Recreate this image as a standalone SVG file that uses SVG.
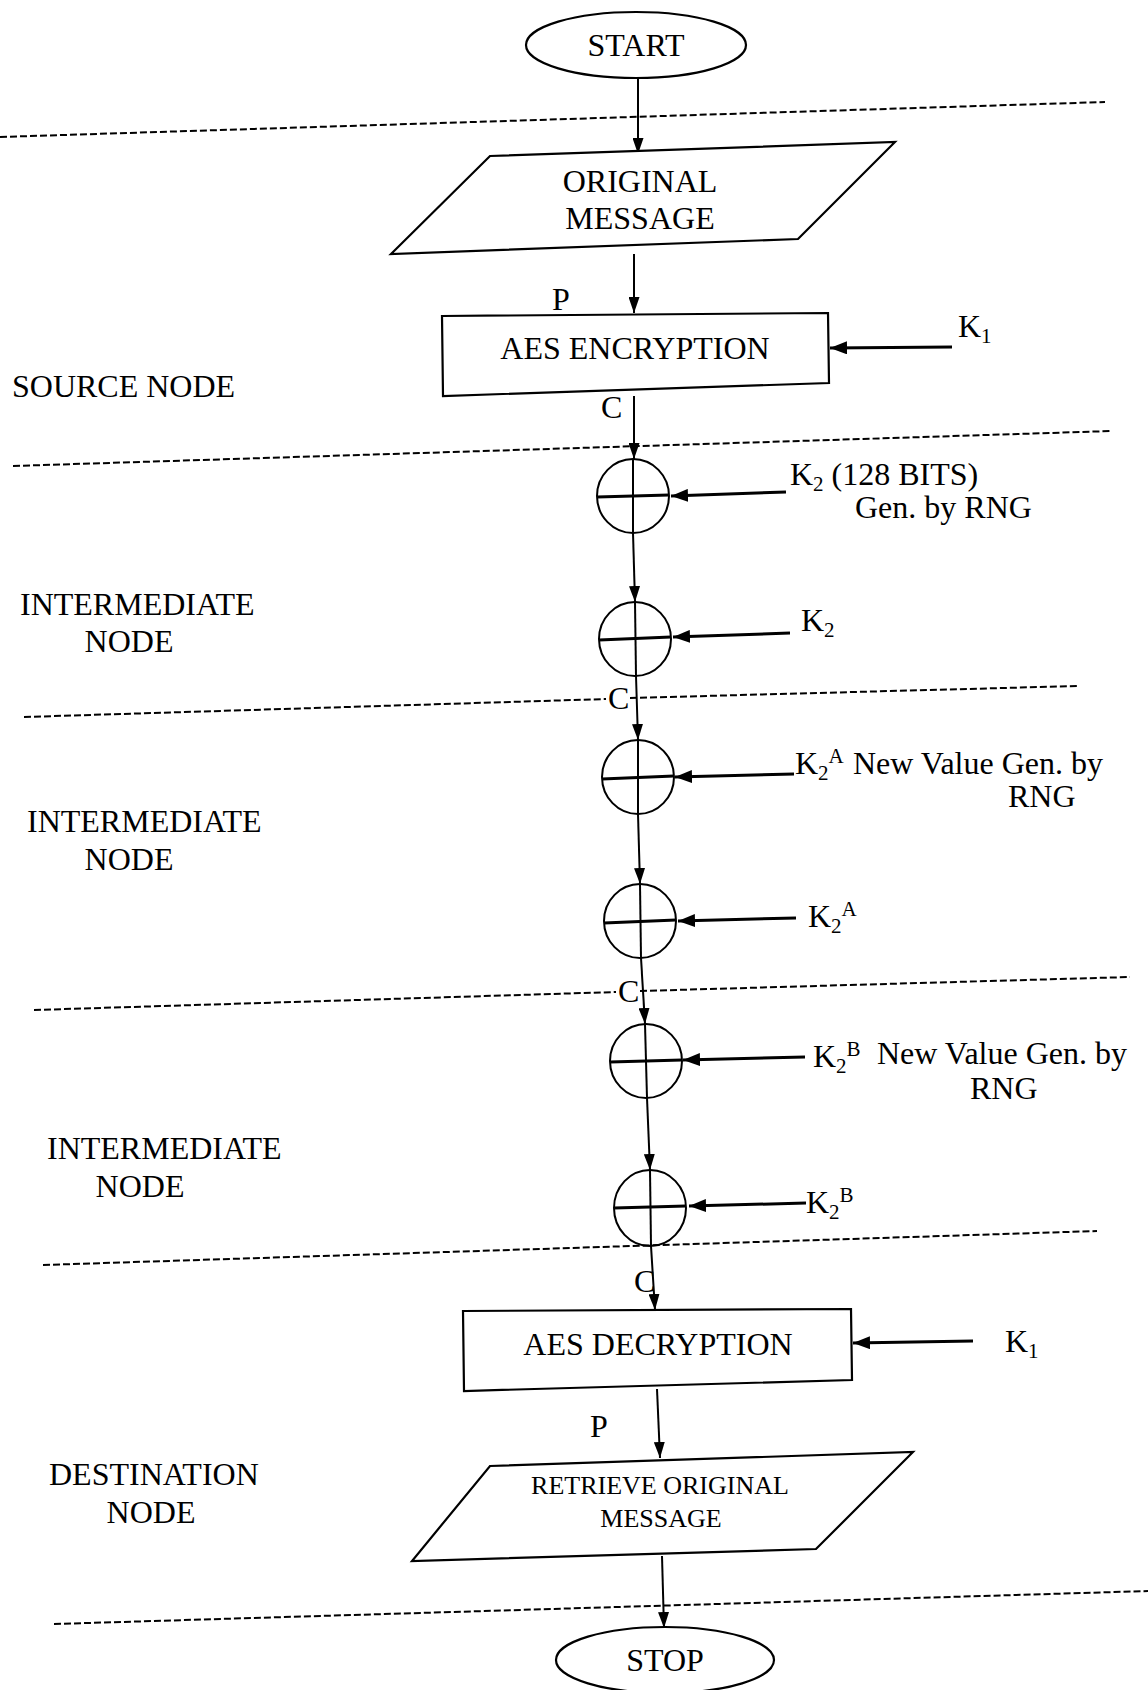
<svg xmlns="http://www.w3.org/2000/svg" width="1148" height="1690" viewBox="0 0 1148 1690">
  <style>
    .shape { fill: #fff; stroke: #000; stroke-width: 2.2; }
    .xor { fill: none; stroke: #000; stroke-width: 2; }
    .bar { stroke: #000; stroke-width: 3; }
    .flow { fill: none; stroke: #000; stroke-width: 2; }
    .key { fill: none; stroke: #000; stroke-width: 3; }
    .zone { fill: none; stroke: #000; stroke-width: 2; stroke-dasharray: 7 3; }
    text { font-family: "Liberation Serif", "Times New Roman", serif; fill: #000; }
    .t { font-size: 32px; }
    .ts { font-size: 26px; }
    .mid { text-anchor: middle; }
    .sub { font-size: 21px; }
  </style>
  <defs>
    <marker id="arrow" viewBox="0 0 16 11" refX="16" refY="5.5" markerWidth="16" markerHeight="11" markerUnits="userSpaceOnUse" orient="auto">
      <path d="M0,0 L16,5.5 L0,11 Z" fill="#000"/>
    </marker>
    <marker id="arrowK" viewBox="0 0 17 13" refX="17" refY="6.5" markerWidth="17" markerHeight="13" markerUnits="userSpaceOnUse" orient="auto">
      <path d="M0,0 L17,6.5 L0,13 Z" fill="#000"/>
    </marker>
  </defs>

  <!-- zone boundaries and zone names -->
  <g id="zones">
    <line class="zone" x1="0" y1="137" x2="1105" y2="102"/>
    <line class="zone" x1="13" y1="466" x2="1112" y2="431"/>
    <line class="zone" x1="24" y1="717" x2="606" y2="699"/>
    <line class="zone" x1="630" y1="698" x2="1078" y2="686"/>
    <line class="zone" x1="34" y1="1010" x2="616" y2="992"/>
    <line class="zone" x1="640" y1="991" x2="1130" y2="977"/>
    <line class="zone" x1="43" y1="1265" x2="1097" y2="1231"/>
    <line class="zone" x1="54" y1="1624" x2="1148" y2="1591"/>
    <text class="t" x="12" y="397">SOURCE NODE</text>
    <text class="t" x="20" y="615">INTERMEDIATE</text>
    <text class="t mid" x="129" y="652">NODE</text>
    <text class="t" x="27" y="832">INTERMEDIATE</text>
    <text class="t mid" x="129" y="870">NODE</text>
    <text class="t" x="47" y="1159">INTERMEDIATE</text>
    <text class="t mid" x="140" y="1197">NODE</text>
    <text class="t" x="49" y="1485">DESTINATION</text>
    <text class="t mid" x="151" y="1523">NODE</text>
  </g>

  <!-- connectors -->
  <g id="connectors">
    <line class="flow" x1="638" y1="78" x2="638" y2="154" marker-end="url(#arrow)"/>
    <line class="flow" x1="634" y1="254" x2="634" y2="313" marker-end="url(#arrow)"/>
    <line class="key" x1="952" y1="347" x2="830" y2="348" marker-end="url(#arrowK)"/>
    <line class="flow" x1="634" y1="396" x2="634" y2="459" marker-end="url(#arrow)"/>
    <line class="key" x1="786" y1="492" x2="671" y2="496" marker-end="url(#arrowK)"/>
    <line class="flow" x1="633" y1="533" x2="635" y2="602" marker-end="url(#arrow)"/>
    <line class="key" x1="790" y1="633" x2="673" y2="637" marker-end="url(#arrowK)"/>
    <line class="flow" x1="636" y1="676" x2="638" y2="740" marker-end="url(#arrow)"/>
    <line class="key" x1="794" y1="774" x2="675" y2="777" marker-end="url(#arrowK)"/>
    <line class="flow" x1="638" y1="814" x2="640" y2="884" marker-end="url(#arrow)"/>
    <line class="key" x1="796" y1="918" x2="678" y2="921" marker-end="url(#arrowK)"/>
    <line class="flow" x1="641" y1="958" x2="645" y2="1024" marker-end="url(#arrow)"/>
    <line class="key" x1="805" y1="1057" x2="683" y2="1060" marker-end="url(#arrowK)"/>
    <line class="flow" x1="647" y1="1098" x2="650" y2="1170" marker-end="url(#arrow)"/>
    <line class="key" x1="806" y1="1203" x2="689" y2="1206" marker-end="url(#arrowK)"/>
    <line class="flow" x1="651" y1="1246" x2="655" y2="1310" marker-end="url(#arrow)"/>
    <line class="key" x1="973" y1="1341" x2="853" y2="1343" marker-end="url(#arrowK)"/>
    <line class="flow" x1="657" y1="1389" x2="660" y2="1458" marker-end="url(#arrow)"/>
    <line class="flow" x1="662" y1="1556" x2="664" y2="1628" marker-end="url(#arrow)"/>
  </g>

  <!-- connector and key labels -->
  <g id="labels">
    <text class="t" x="552" y="310">P</text>
    <text class="t" x="601" y="418">C</text>
    <text class="t" x="608" y="709">C</text>
    <text class="t" x="618" y="1002">C</text>
    <text class="t" x="634" y="1292">C</text>
    <text class="t" x="590" y="1437">P</text>
    <text class="t" x="958" y="337">K<tspan class="sub" dy="6">1</tspan></text>
    <text class="t" x="1005" y="1352">K<tspan class="sub" dy="6">1</tspan></text>
    <text class="t" x="790" y="485">K<tspan class="sub" dy="6">2</tspan><tspan dy="-6"> (128 BITS)</tspan></text>
    <text class="t" x="855" y="518">Gen. by RNG</text>
    <text class="t" x="801" y="631">K<tspan class="sub" dy="6">2</tspan></text>
    <text class="t" x="795" y="774">K<tspan class="sub" dy="6">2</tspan><tspan class="sub" dy="-17">A</tspan></text>
    <text class="t" x="853" y="774">New Value Gen. by</text>
    <text class="t" x="1008" y="807">RNG</text>
    <text class="t" x="808" y="927">K<tspan class="sub" dy="6">2</tspan><tspan class="sub" dy="-17">A</tspan></text>
    <text class="t" x="813" y="1067">K<tspan class="sub" dy="6">2</tspan><tspan class="sub" dy="-17">B</tspan></text>
    <text class="t" x="877" y="1064">New Value Gen. by</text>
    <text class="t" x="970" y="1099">RNG</text>
    <text class="t" x="806" y="1213">K<tspan class="sub" dy="6">2</tspan><tspan class="sub" dy="-17">B</tspan></text>
  </g>

  <g id="start">
    <ellipse class="shape" cx="636" cy="45" rx="110" ry="33"/>
    <text class="t mid" x="636" y="56">START</text>
  </g>

  <g id="original-message">
    <polygon class="shape" points="490,156 895,142 798,239 391,254"/>
    <text class="t mid" x="640" y="192">ORIGINAL</text>
    <text class="t mid" x="640" y="229">MESSAGE</text>
  </g>

  <g id="aes-encryption">
    <polygon class="shape" points="442,316 828,313 829,383 443,396"/>
    <text class="t mid" x="635" y="359">AES ENCRYPTION</text>
  </g>

  <g id="xor-1">
    <ellipse class="xor" cx="633" cy="496" rx="36" ry="37"/>
    <line class="flow" x1="633" y1="459" x2="633" y2="533"/>
    <line class="bar" x1="597" y1="497" x2="669" y2="495"/>
  </g>

  <g id="xor-2">
    <ellipse class="xor" cx="635" cy="639" rx="36" ry="37"/>
    <line class="flow" x1="635" y1="602" x2="636" y2="676"/>
    <line class="bar" x1="599" y1="640" x2="671" y2="637"/>
  </g>

  <g id="xor-3">
    <ellipse class="xor" cx="638" cy="777" rx="36" ry="37"/>
    <line class="flow" x1="638" y1="740" x2="638" y2="814"/>
    <line class="bar" x1="602" y1="779" x2="674" y2="776"/>
  </g>

  <g id="xor-4">
    <ellipse class="xor" cx="640" cy="921" rx="36" ry="37"/>
    <line class="flow" x1="640" y1="884" x2="641" y2="958"/>
    <line class="bar" x1="604" y1="923" x2="676" y2="920"/>
  </g>

  <g id="xor-5">
    <ellipse class="xor" cx="646" cy="1061" rx="36" ry="37"/>
    <line class="flow" x1="645" y1="1024" x2="647" y2="1098"/>
    <line class="bar" x1="610" y1="1062" x2="682" y2="1060"/>
  </g>

  <g id="xor-6">
    <ellipse class="xor" cx="650" cy="1208" rx="36" ry="38"/>
    <line class="flow" x1="650" y1="1170" x2="651" y2="1246"/>
    <line class="bar" x1="614" y1="1208" x2="686" y2="1206"/>
  </g>

  <g id="aes-decryption">
    <polygon class="shape" points="463,1311 851,1309 852,1380 464,1391"/>
    <text class="t mid" x="658" y="1355">AES DECRYPTION</text>
  </g>

  <g id="retrieve-message">
    <polygon class="shape" points="490,1466 913,1452 816,1549 412,1561"/>
    <text class="ts mid" x="660" y="1494">RETRIEVE ORIGINAL</text>
    <text class="ts mid" x="661" y="1527">MESSAGE</text>
  </g>

  <g id="stop">
    <ellipse class="shape" cx="665" cy="1660" rx="109" ry="33"/>
    <text class="t mid" x="665" y="1671">STOP</text>
  </g>
</svg>
